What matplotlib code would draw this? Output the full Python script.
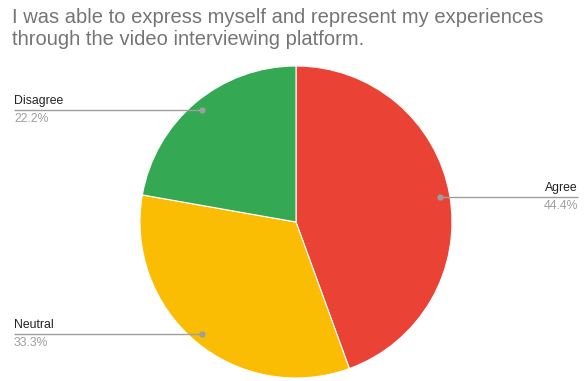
import matplotlib
matplotlib.use("Agg")
import matplotlib.pyplot as plt
import numpy as np

labels = ["Agree", "Neutral", "Disagree"]
values = [4, 3, 2]
colors = ["#EA4335", "#FBBC04", "#34A853"]
title = "I was able to express myself and represent my experiences\nthrough the video interviewing platform."

W, H = 586, 381
fig = plt.figure(figsize=(W / 100, H / 100), dpi=100)
ax = fig.add_axes([0, 0, 1, 1])
ax.set_xlim(0, W)
ax.set_ylim(0, H)
ax.set_aspect("equal")
ax.axis("off")

cx, cy, r = 296, H - 222, 156
wedges, _ = ax.pie(values, colors=colors, startangle=90, counterclock=False,
                   center=(cx, cy), radius=r, frame=True,
                   wedgeprops=dict(edgecolor="white", linewidth=0.8))
ax.set_xlim(0, W)
ax.set_ylim(0, H)
ax.axis("off")

fam = ['Liberation Sans', 'DejaVu Sans']
fig.text(12 / W, 1 - 8 / H, title, ha="left", va="top", fontsize=14.5,
         color="#757575", family=fam, linespacing=1.17)

total = sum(values)
for w, lab, v in zip(wedges, labels, values):
    ang = np.deg2rad((w.theta1 + w.theta2) / 2)
    dx, dy = np.cos(ang), np.sin(ang)
    px, py = cx + 0.94 * r * dx, cy + 0.94 * r * dy
    pct = f"{100 * v / total:.1f}%"
    if dx > 0:
        x_end = 578
        ha = "right"
    else:
        x_end = 14
        ha = "left"
    ax.plot([px, x_end], [py, py], color="#9e9e9e", lw=1, solid_capstyle="butt")
    ax.plot([px], [py], "o", color="#9e9e9e", ms=3.5)
    ax.text(x_end, py + 3, lab, ha=ha, va="bottom", fontsize=8.8, color="#222222",
            family=fam)
    ax.text(x_end, py - 3, pct, ha=ha, va="top", fontsize=8.8, color="#9e9e9e",
            family=fam)

fig.savefig("out.png", dpi=100, facecolor="white")
